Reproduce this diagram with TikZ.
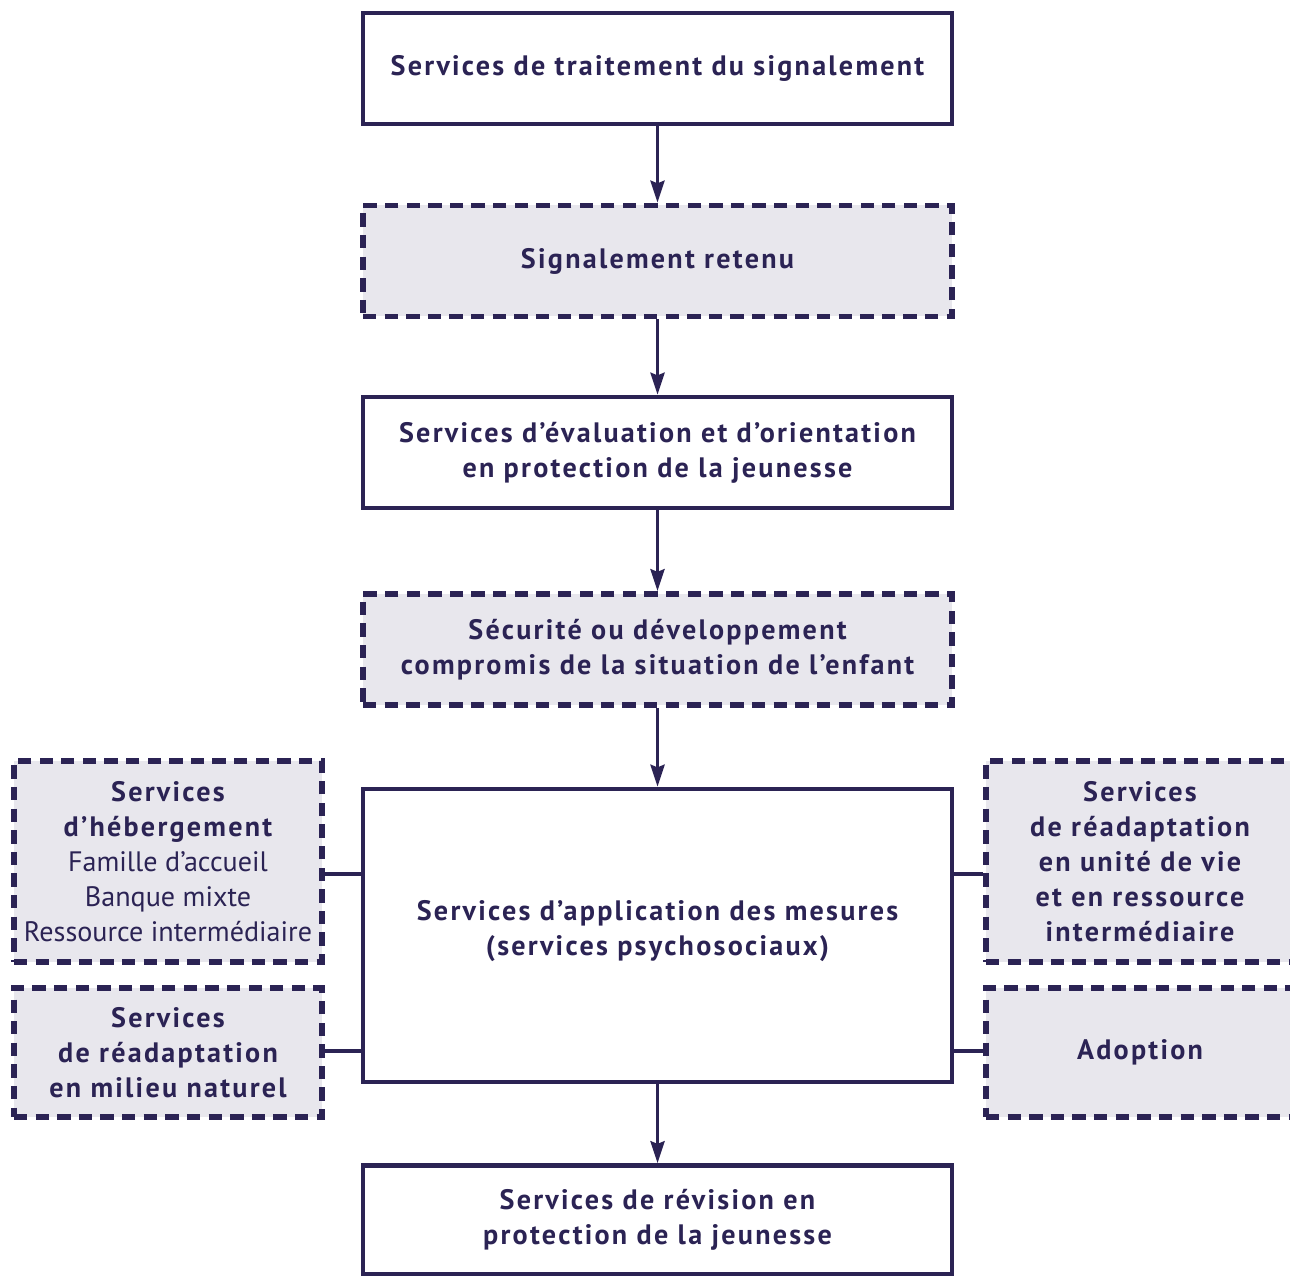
\documentclass[tikz,border=0pt]{standalone}
\usepackage{fontspec}
\setmainfont{PT Sans}[BoldFeatures={LetterSpace=8}]
\usetikzlibrary{arrows.meta}
\definecolor{navy}{RGB}{43,35,84}
\definecolor{lavande}{RGB}{232,231,237}
\tikzset{
BOX/.style ={draw=navy,line width=2.6pt,fill=white,text=navy,align=center,inner sep=0pt,
	minimum width=11.78cm,minimum height=2.22cm,font=\fontsize{16}{19.9}\selectfont\bfseries},
DASHBOX/.style ={BOX,fill=lavande,line width=3.2pt,dash pattern=on 7.6pt off 4.7pt},
SIDEBOX/.style ={DASHBOX,minimum width=6.16cm},
LINK/.style ={draw=navy,line width=2pt},
ARROW/.style ={LINK,-{Stealth[length=12.5pt,width=8pt,inset=1.5pt]}},
}
\begin{document}
\begin{tikzpicture}
	\useasboundingbox (0,0) rectangle (25.8,25.52);
	\node[BOX] (signalement) at (13.15,24.15) {Services de traitement du signalement};
	\node[DASHBOX] (retenu) at (13.15,20.30) {Signalement retenu};
	\node[BOX] (evaluation) at (13.15,16.47) {Services d'évaluation et d'orientation\\en protection de la jeunesse};
	\node[DASHBOX] (compromis) at (13.15,12.53) {Sécurité ou développement\\compromis de la situation de l'enfant};
	\node[BOX,minimum height=5.86cm,text depth=0.3cm] (mesures) at (13.15,6.81) {Services d'application des mesures\\(services psychosociaux)};
	\node[BOX,minimum height=2.18cm] (revision) at (13.15,1.12) {Services de révision en\\protection de la jeunesse};
	%Left
	\node[SIDEBOX,minimum height=4.02cm] (hebergement) at (3.36,8.29) {Services\\d'hébergement\\{\mdseries Famille d'accueil}\\{\mdseries Banque mixte}\\{\mdseries Ressource intermédiaire}};
	\node[SIDEBOX,minimum height=2.58cm] (milieu) at (3.36,4.47) {Services\\de réadaptation\\en milieu naturel};
	%Right
	\node[SIDEBOX,minimum height=4.02cm] (unite) at (22.80,8.29) {Services\\de réadaptation\\en unité de vie\\et en ressource\\intermédiaire};
	\node[SIDEBOX,minimum height=2.58cm] (adoption) at (22.80,4.47) {Adoption};
	\coordinate (haut) at (0,8.04);
	\coordinate (bas) at (0,4.50);
	\draw[ARROW] (signalement) -- (retenu);
	\draw[ARROW] (retenu) -- (evaluation);
	\draw[ARROW] (evaluation) -- (compromis);
	\draw[ARROW] (compromis) -- (mesures);
	\draw[ARROW] (mesures) -- (revision);
	\draw[LINK] (hebergement.east |- haut) -- (mesures.west |- haut);
	\draw[LINK] (milieu.east |- bas) -- (mesures.west |- bas);
	\draw[LINK] (mesures.east |- haut) -- (unite.west |- haut);
	\draw[LINK] (mesures.east |- bas) -- (adoption.west |- bas);
\end{tikzpicture}
\end{document}
